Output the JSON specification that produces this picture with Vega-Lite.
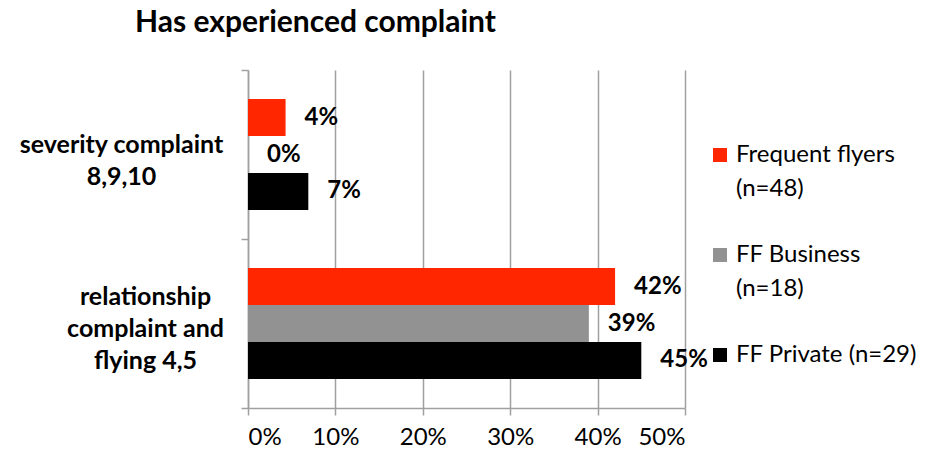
{
  "$schema": "https://vega.github.io/schema/vega-lite/v6.json",
  "width": 437,
  "height": 338,
  "autosize": {"type": "none"},
  "padding": {"left": 248, "top": 70, "right": 252, "bottom": 49},
  "background": "white",
  "title": {"text": "Has experienced complaint", "anchor": "start", "frame": "group", "dx": -113, "offset": 20, "fontSize": 30, "fontWeight": "bold", "font": "Lato", "color": "black"},
  "config": {"view": {"stroke": null}, "font": "Lato", "style": {"guide-label": {"lineHeight": 34}}},
  "data": {
    "values": [
      {"category": "severity complaint 8,9,10", "series": "Frequent flyers (n=48)", "value": 0.043},
      {"category": "severity complaint 8,9,10", "series": "FF Business (n=18)", "value": 0.0},
      {"category": "severity complaint 8,9,10", "series": "FF Private (n=29)", "value": 0.069},
      {"category": "relationship complaint and flying 4,5", "series": "Frequent flyers (n=48)", "value": 0.42},
      {"category": "relationship complaint and flying 4,5", "series": "FF Business (n=18)", "value": 0.39},
      {"category": "relationship complaint and flying 4,5", "series": "FF Private (n=29)", "value": 0.45}
    ]
  },
  "encoding": {
    "y": {
      "field": "category",
      "type": "nominal",
      "sort": ["severity complaint 8,9,10", "relationship complaint and flying 4,5"],
      "scale": {"paddingInner": 0, "paddingOuter": 0},
      "axis": {
        "title": null,
        "domainColor": "#a0a0a0",
        "domainWidth": 1.5,
        "tickColor": "#a0a0a0",
        "tickWidth": 1.5,
        "tickSize": 7,
        "tickBand": "extent",
        "grid": false,
        "labelFontSize": 25,
        "labelFontWeight": "bold",
        "labelColor": "black",
        "labelFont": "Lato",
        "labelAlign": "center",
        "labelBaseline": "middle",
        "labelLineHeight": 32,
        "labelLimit": 300,
        "labelOffset": {"condition": {"test": "datum.value == 'severity complaint 8,9,10'", "value": -10}, "value": -27},
        "labelPadding": {"condition": {"test": "datum.value == 'severity complaint 8,9,10'", "value": 120}, "value": 96},
        "labelExpr": "datum.value == 'severity complaint 8,9,10' ? ['severity complaint', '8,9,10'] : datum.value == 'relationship complaint and flying 4,5' ? ['relationship', 'complaint and', 'flying 4,5'] : ''"
      }
    },
    "yOffset": {"field": "series", "type": "nominal", "sort": ["Frequent flyers (n=48)", "FF Business (n=18)", "FF Private (n=29)"], "scale": {"paddingInner": 0, "paddingOuter": 0.784}},
    "x": {
      "field": "value",
      "type": "quantitative",
      "scale": {"domain": [0, 0.5]},
      "axis": {
        "title": null,
        "values": [0, 0.1, 0.2, 0.3, 0.4, 0.5],
        "format": ".0%",
        "grid": true,
        "gridColor": "#a0a0a0",
        "gridWidth": 1.5,
        "domainColor": "#a0a0a0",
        "domainWidth": 1.5,
        "tickColor": "#a0a0a0",
        "tickWidth": 1.5,
        "tickSize": 7,
        "labelFontSize": 24,
        "labelColor": "black",
        "labelFont": "Lato",
        "labelPadding": 10
      }
    }
  },
  "layer": [
    {
      "mark": {"type": "bar"},
      "encoding": {
        "color": {
          "field": "series",
          "type": "nominal",
          "scale": {"domain": ["Frequent flyers (n=48)", "FF Business (n=18)", "FF Private (n=29)"], "range": ["#FF2600", "#929292", "#000000"]},
          "legend": {
            "title": null,
            "orient": "none",
            "legendX": 460,
            "legendY": 73,
            "symbolType": "square",
            "symbolSize": 196,
            "symbolStrokeWidth": 0,
            "labelFontSize": 24,
            "labelFont": "Lato",
            "labelColor": "black",
            "labelLimit": 300,
            "rowPadding": 42,
            "labelExpr": "datum.label == 'Frequent flyers (n=48)' ? ['Frequent flyers', '(n=48)'] : datum.label == 'FF Business (n=18)' ? ['FF Business', '(n=18)'] : datum.label"
          }
        }
      }
    },
    {
      "mark": {"type": "text", "align": "left", "dx": 19, "fontWeight": "bold", "fontSize": 24, "font": "Lato", "color": "black"},
      "encoding": {"text": {"field": "value", "type": "quantitative", "format": ".0%"}}
    }
  ]
}
